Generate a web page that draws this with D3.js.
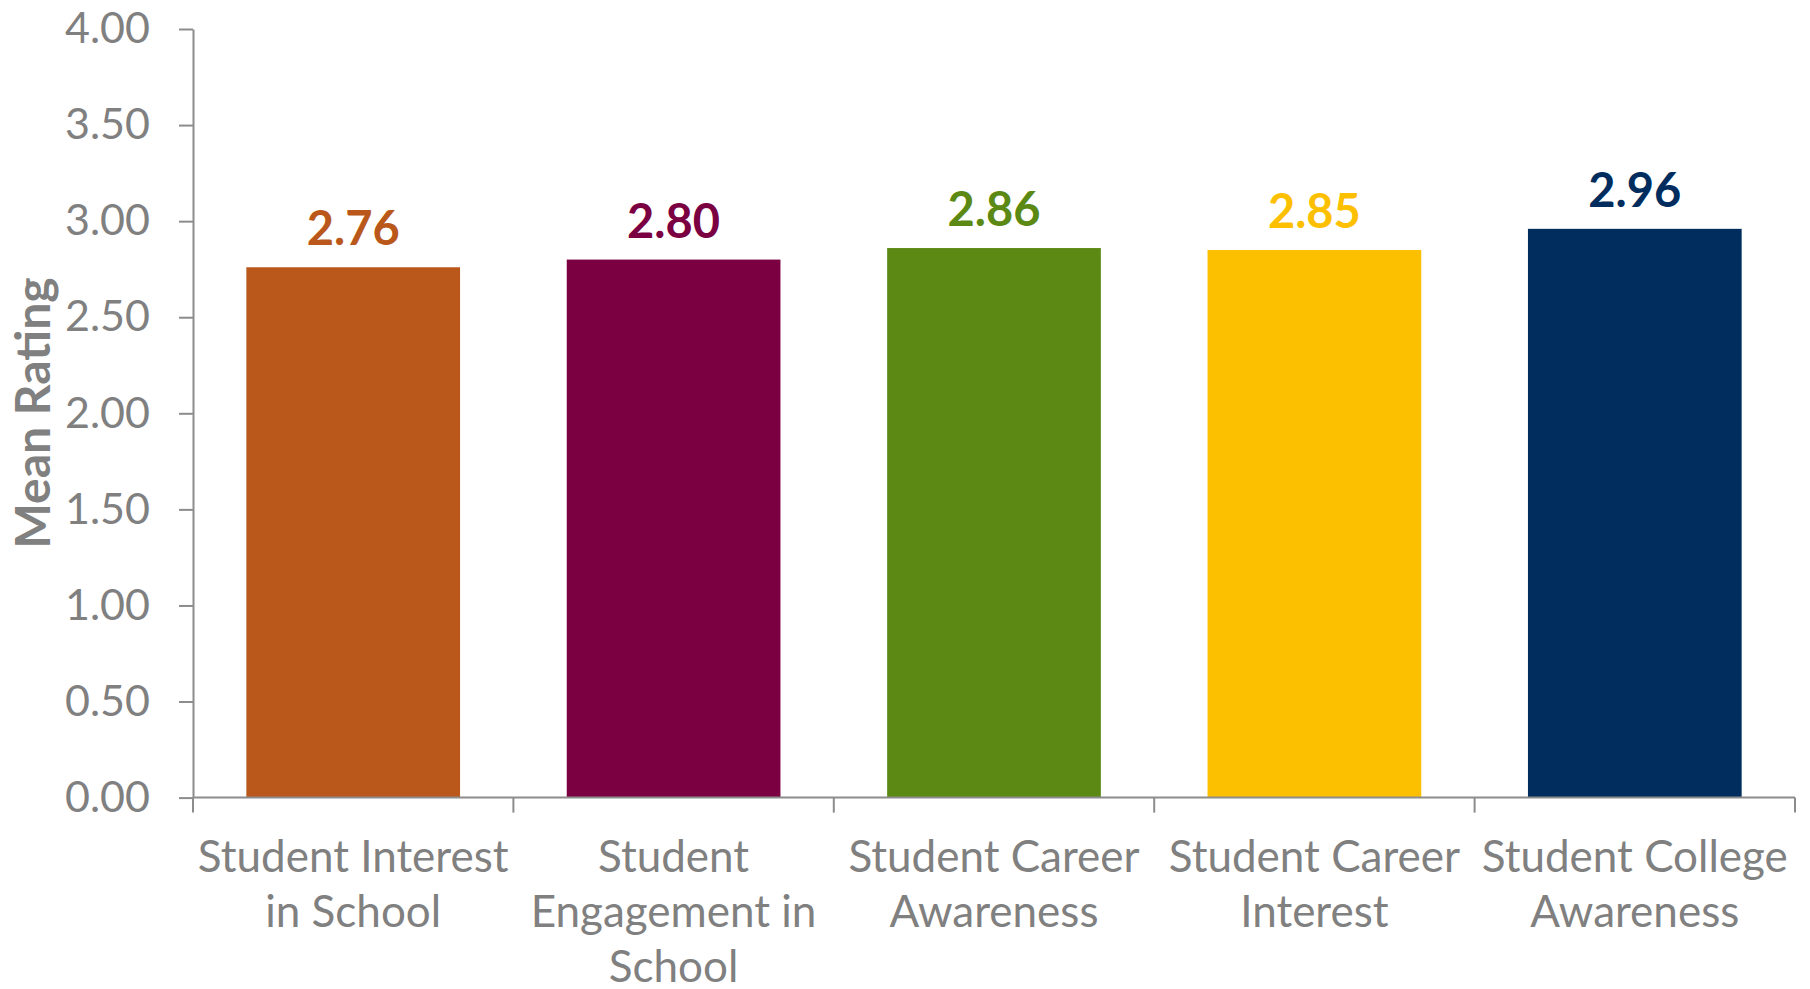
<!DOCTYPE html>
<html><head><meta charset="utf-8">
<script src="https://cdn.jsdelivr.net/npm/d3@7"></script>
<style>
html,body{margin:0;padding:0;background:#fff;}
svg{display:block;}
text{font-family:Lato,"Open Sans",sans-serif;}
</style></head>
<body>
<svg id="chart" width="1810" height="989"></svg>
<script>
const categories = [
  ["Student Interest", "in School"],
  ["Student", "Engagement in", "School"],
  ["Student Career", "Awareness"],
  ["Student Career", "Interest"],
  ["Student College", "Awareness"]
];
const values = [2.76, 2.80, 2.86, 2.85, 2.96];
const valueLabels = ["2.76", "2.80", "2.86", "2.85", "2.96"];
const colors = ["#B9581A", "#7B0041", "#5B8914", "#FDC000", "#002D5E"];
const yTicks = [0, 0.5, 1, 1.5, 2, 2.5, 3, 3.5, 4];
const yTitle = "Mean Rating";

(function () {
const svg = d3.select("#chart");
const mLeft = 193, mRight = 1795, mTop = 29, mBottom = 797.6;
const gray = "#8C8C8C", textGray = "#808080";

const keys = categories.map((c, i) => i);
const x = d3.scaleBand().domain(keys).range([mLeft, mRight]).paddingInner(0.333).paddingOuter(0.1665);
const xb = d3.scaleBand().domain(keys).range([mLeft, mRight]);
const y = d3.scaleLinear().domain([0, 4]).range([mBottom, mTop]);

// bars
svg.append("g").selectAll("rect").data(values).join("rect")
  .attr("x", (d, i) => x(i))
  .attr("width", x.bandwidth())
  .attr("y", d => y(d))
  .attr("height", d => y(0) - y(d))
  .attr("fill", (d, i) => colors[i]);

// value labels
svg.append("g").selectAll("text").data(values).join("text")
  .attr("x", (d, i) => x(i) + x.bandwidth() / 2)
  .attr("y", d => y(d) - 22)
  .attr("text-anchor", "middle")
  .attr("font-size", 47)
  .attr("font-weight", 700)
  .attr("fill", (d, i) => colors[i])
  .text((d, i) => valueLabels[i]);

// y axis
const yAxis = d3.axisLeft(y).tickValues(yTicks).tickFormat(d3.format(".2f")).tickSize(14).tickSizeOuter(0).tickPadding(29);
const gy = svg.append("g").attr("transform", `translate(${mLeft},0)`).call(yAxis);
gy.select(".domain").attr("stroke", gray).attr("stroke-width", 2);
gy.selectAll(".tick line").attr("stroke", gray).attr("stroke-width", 2);
gy.selectAll(".tick text").attr("fill", textGray).attr("font-size", 43)
  .attr("font-family", "Lato, sans-serif");

// x axis: baseline and boundary ticks
const bounds = keys.map(k => xb(k)).concat([mRight]);
svg.append("line").attr("x1", mLeft).attr("x2", mRight).attr("y1", mBottom).attr("y2", mBottom)
  .attr("stroke", gray).attr("stroke-width", 2);
svg.append("g").selectAll("line").data(bounds).join("line")
  .attr("x1", d => d).attr("x2", d => d).attr("y1", mBottom).attr("y2", mBottom + 15)
  .attr("stroke", gray).attr("stroke-width", 2);

// x labels
const xl = svg.append("g").selectAll("text").data(categories).join("text")
  .attr("x", (d, i) => xb(i) + xb.bandwidth() / 2)
  .attr("y", 872)
  .attr("text-anchor", "middle")
  .attr("font-size", 44)
  .attr("fill", textGray);
xl.each(function(d) {
  const t = d3.select(this);
  d.forEach((line, j) => {
    t.append("tspan").attr("x", t.attr("x")).attr("dy", j === 0 ? 0 : 55).text(line);
  });
});

// y title
svg.append("text")
  .attr("transform", `translate(50,413) rotate(-90)`)
  .attr("text-anchor", "middle")
  .attr("font-size", 48)
  .attr("font-weight", 700)
  .attr("fill", textGray)
  .text(yTitle);
})();
</script>
</body></html>
